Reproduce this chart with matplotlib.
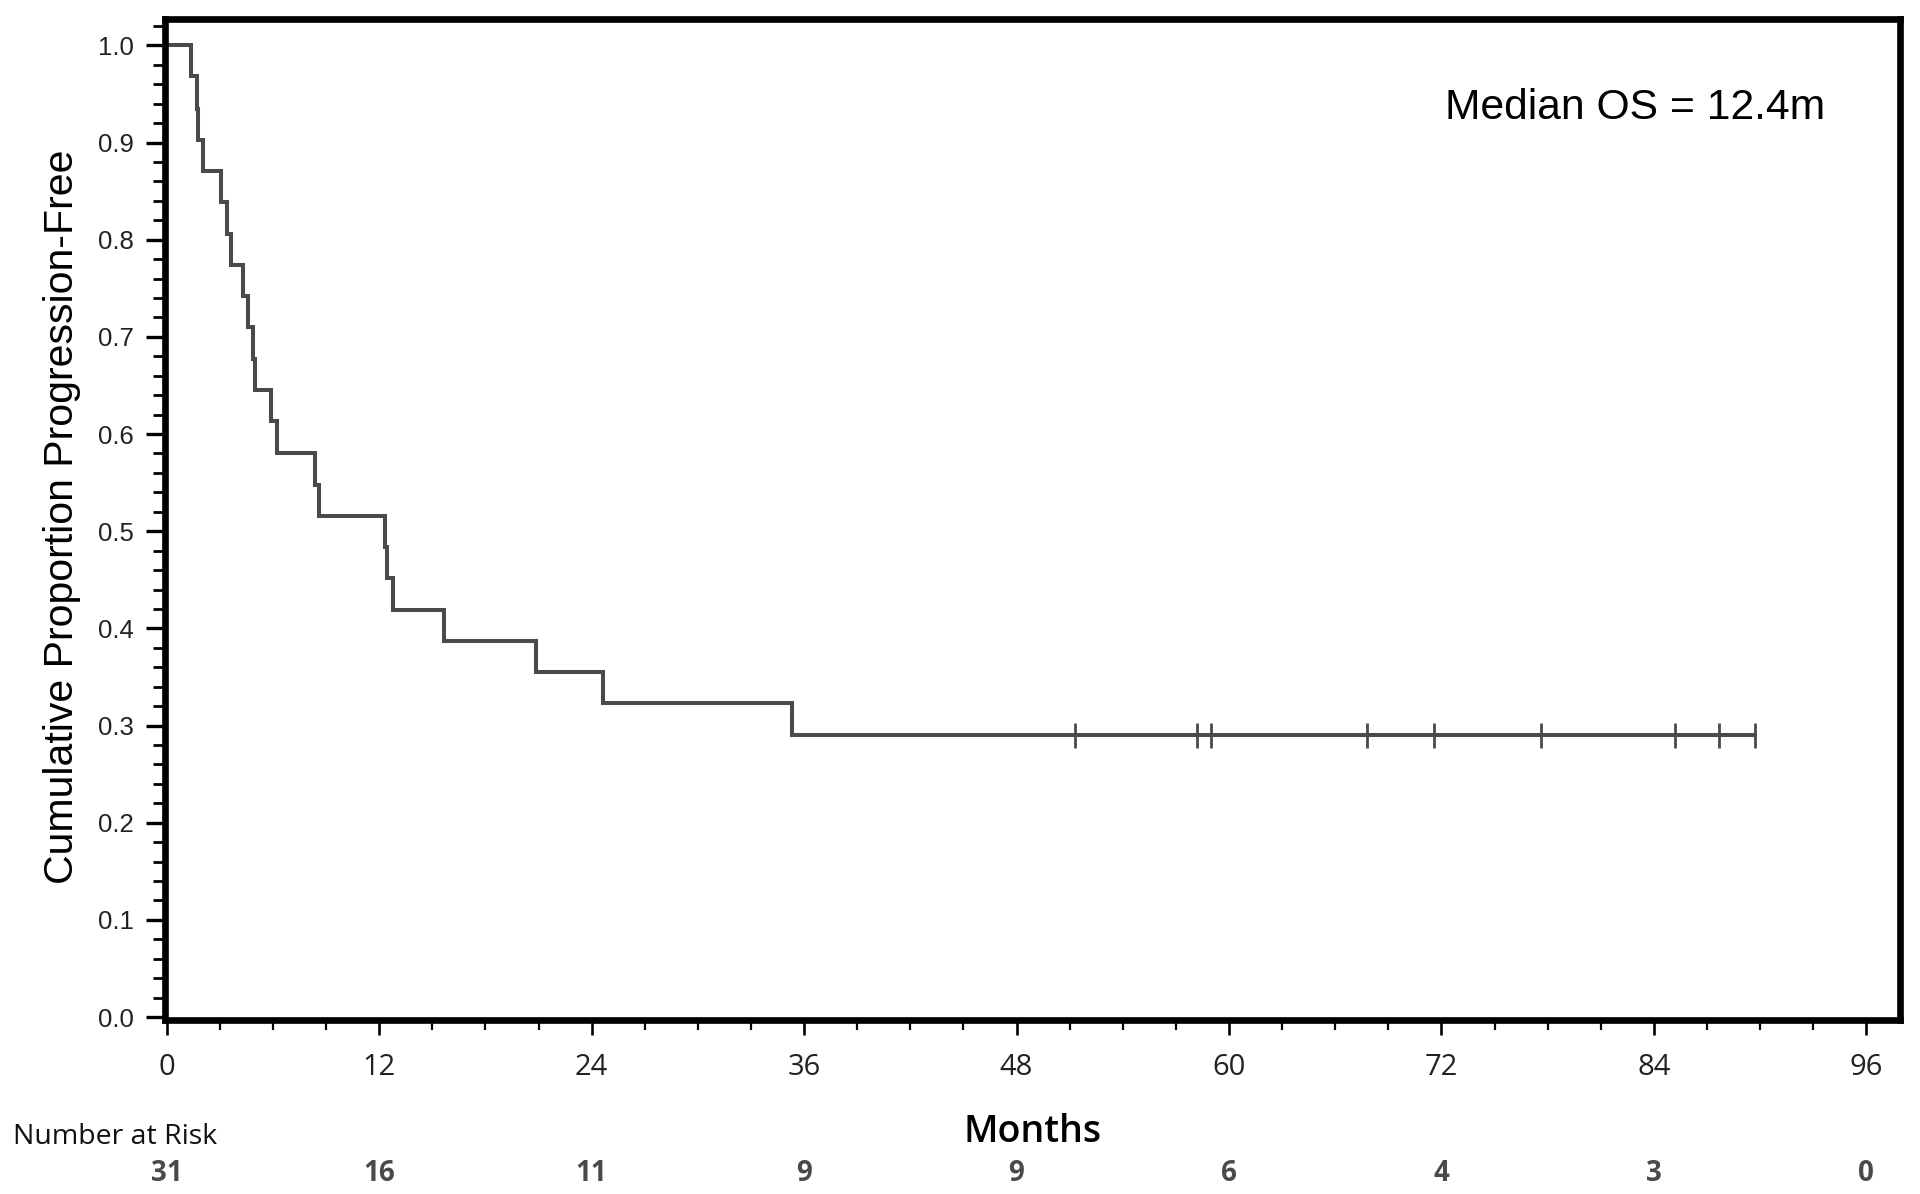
import matplotlib.pyplot as plt
import matplotlib.transforms as mtransforms
from matplotlib.ticker import MultipleLocator
import numpy as np

# Kaplan-Meier steps (months, proportion after the drop)
event_times = [0.0, 1.38, 1.70, 1.78, 2.07, 3.05, 3.42, 3.62, 4.30, 4.60, 4.88,
               5.00, 5.88, 6.24, 8.35, 8.60, 12.32, 12.45, 12.77, 15.66, 20.87,
               24.65, 35.30]
surv_values = [1.000, 0.968, 0.935, 0.903, 0.871, 0.839, 0.806, 0.774, 0.742,
               0.710, 0.677, 0.645, 0.613, 0.581, 0.548, 0.516, 0.484, 0.452,
               0.419, 0.387, 0.355, 0.323, 0.290]
censor_times = [51.3, 58.2, 59.0, 67.8, 71.6, 77.6, 85.2, 87.7, 89.7]

risk_months = [0, 12, 24, 36, 48, 60, 72, 84, 96]
risk_counts = [31, 16, 11, 9, 9, 6, 4, 3, 0]

median_text = 'Median OS = 12.4m'

curve_color = '#4a4a4a'
sans = 'Liberation Sans'
alt_sans = 'Open Sans'

fig = plt.figure(figsize=(19.2, 11.94), dpi=100)
ax = fig.add_axes([0.0859, 0.1461, 0.9037, 0.8376])

# Survival curve, carried on to the last censored patient
times = np.array(event_times + [censor_times[-1]])
surv = np.array(surv_values + [surv_values[-1]])
ax.step(times, surv, where='post', color=curve_color, lw=2.9, solid_joinstyle='miter')

# Censor marks at the current level of the curve
idx = np.searchsorted(event_times, censor_times, side='right') - 1
censor_levels = np.array(surv_values)[idx]
ax.plot(censor_times, censor_levels, linestyle='none', marker='|',
        markersize=18, markeredgewidth=2.0, color=curve_color)

ax.set_xlim(-0.1, 97.9)
ax.set_ylim(-0.0026, 1.0267)

ax.xaxis.set_major_locator(MultipleLocator(12))
ax.xaxis.set_minor_locator(MultipleLocator(3))
ax.yaxis.set_minor_locator(MultipleLocator(0.02))
ax.set_yticks(np.arange(0, 1.01, 0.1))
ax.set_yticklabels([f'{v:.1f}' for v in np.arange(0, 1.01, 0.1)])

for side in ['left', 'right', 'top', 'bottom']:
    ax.spines[side].set_linewidth(4.8)
    ax.spines[side].set_color('black')

ax.tick_params(axis='y', which='major', direction='out', length=13.5, width=2.4,
               pad=9, labelsize=18.5, colors='black', labelcolor='#222222')
ax.tick_params(axis='y', which='minor', direction='out', length=8.5, width=2.0,
               colors='black')
ax.tick_params(axis='x', which='major', direction='out', length=11, width=1.9,
               pad=13, labelsize=21, colors='black', labelcolor='#222222')
ax.tick_params(axis='x', which='minor', direction='out', length=7, width=1.6,
               colors='black')
for lbl in ax.get_yticklabels():
    lbl.set_fontfamily(sans)
for lbl in ax.get_xticklabels():
    lbl.set_fontfamily(alt_sans)

ax.set_ylabel('Cumulative Proportion Progression-Free', fontsize=29.5,
              fontfamily=sans, color='black')
ax.yaxis.set_label_coords(-0.0594, 0.5025)
ax.yaxis.label.set_va('center')

ax.set_xlabel('Months', fontsize=27, fontfamily=alt_sans, fontweight='semibold',
              color='black')
ax.xaxis.set_label_coords(0.5, -0.1125)
ax.xaxis.label.set_va('center')

ax.text(0.7378, 0.9008, median_text, transform=ax.transAxes, fontsize=30.7,
        fontfamily=sans, ha='left', va='baseline', color='black')

# Number at risk table below the axis
fig.text(0.0068, 0.0477, 'Number at Risk', fontsize=20.5, fontfamily=alt_sans,
         ha='left', va='center', color='#111111')
risk_trans = mtransforms.blended_transform_factory(ax.transData, fig.transFigure)
for m, n in zip(risk_months, risk_counts):
    ax.text(m, 0.0175, str(n), transform=risk_trans, fontsize=20,
            fontfamily=alt_sans, fontweight='bold', ha='center', va='center',
            color='#4a4a4a', clip_on=False)

fig.savefig('out.png', dpi=100)
plt.close(fig)
